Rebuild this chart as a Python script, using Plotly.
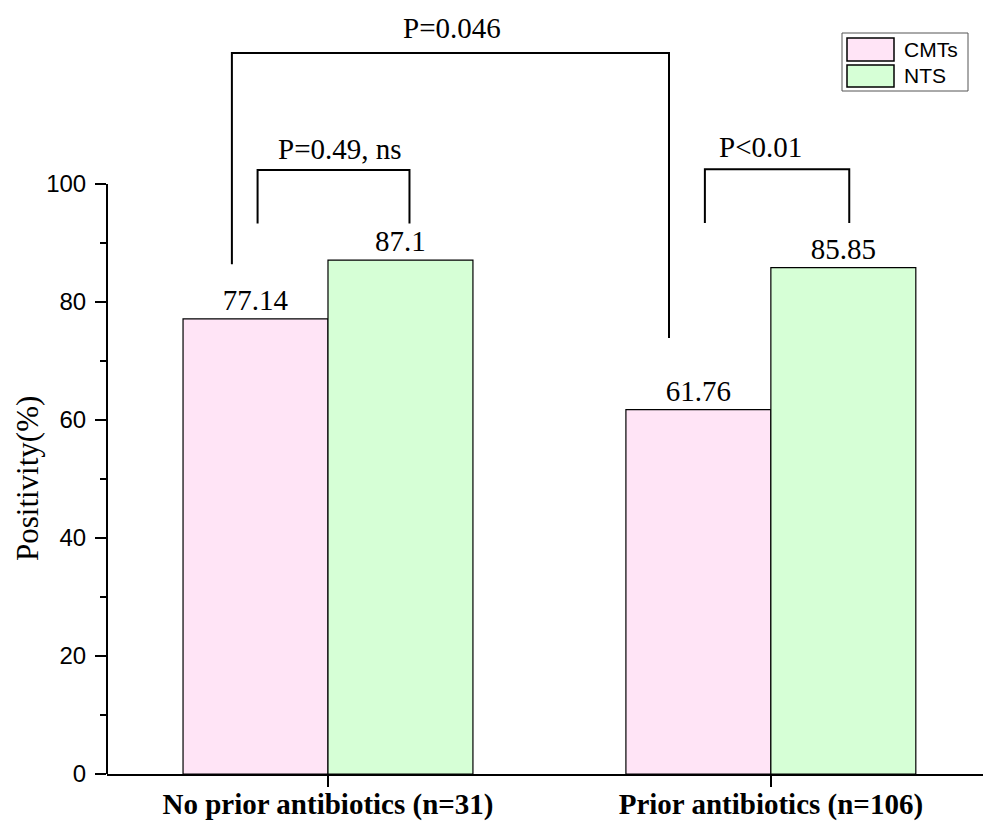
import plotly.graph_objects as go

# Data
categories = ["No prior antibiotics (n=31)", "Prior antibiotics (n=106)"]
series_names = ["CMTs", "NTS"]
cmts_values = [77.14, 61.76]
nts_values = [87.1, 85.85]
series_values = [cmts_values, nts_values]
bar_colors = ["#FFE4F6", "#D6FFD6"]

y_ticks = [0, 20, 40, 60, 80, 100]
y_minor_ticks = [10, 30, 50, 70, 90]

# Significance brackets: (x_left, x_right, y_top, y_left_end, y_right_end, label, label_x, label_y)
brackets = [
    (-0.217, 0.770, 122.2, 86.4, 73.9, "P=0.046", 0.28, 126.4),
    (-0.159, 0.184, 102.4, 93.3, 93.3, "P=0.49, ns", 0.027, 105.9),
    (0.851, 1.177, 102.5, 93.4, 93.4, "P<0.01", 0.977, 106.3),
]

W, H = 983, 823
M_L, M_R, M_T, M_B = 107, 0, 0, 49
Y_MAX = 131.2
X_RANGE = [-0.499, 1.479]

serif = "Liberation Serif, Times New Roman, serif"
sans = "Liberation Sans, Arial, sans-serif"

fig = go.Figure()
for name, vals, col in zip(series_names, series_values, bar_colors):
    fig.add_trace(go.Bar(
        x=categories, y=vals, name=name,
        marker=dict(color=col, line=dict(color="black", width=1.2)),
        text=[f"{v:g}" for v in vals], textposition="outside",
        textfont=dict(family=serif, size=29, color="black"),
        cliponaxis=False, showlegend=False,
    ))

shapes = []
annotations = []

# y-axis line from 0 to 100
shapes.append(dict(type="line", xref="paper", yref="y", x0=0, x1=0, y0=-1.0, y1=100,
                   line=dict(color="black", width=2)))

for xl, xr, yt, yl, yr, lab, lx, ly in brackets:
    shapes.append(dict(type="path", xref="x", yref="y",
                       path=f"M {xl},{yl} L {xl},{yt} L {xr},{yt} L {xr},{yr}",
                       line=dict(color="black", width=2)))
    annotations.append(dict(x=lx, y=ly, xref="x", yref="y", text=lab, showarrow=False,
                            font=dict(family=serif, size=29, color="black"),
                            xanchor="center", yanchor="middle"))

# Pixel -> paper coordinate helpers
pw = W - M_L - M_R
ph = H - M_T - M_B
def px(x):
    return (x - M_L) / pw
def py(y):
    return (H - M_B - y) / ph

# y-axis title, centred on the 0-100 span
annotations.append(dict(x=px(27), y=50, xref="paper", yref="y", text="Positivity(%)",
                        textangle=-90, showarrow=False, xanchor="center", yanchor="middle",
                        font=dict(family=serif, size=31, color="black")))

# Legend box
shapes.append(dict(type="rect", xref="paper", yref="paper",
                   x0=px(842), x1=px(968), y0=py(91), y1=py(33),
                   line=dict(color="#555555", width=1), fillcolor="white"))
swatch_rows = [(38, 61), (65, 87)]
for (t, b), name, col in zip(swatch_rows, series_names, bar_colors):
    shapes.append(dict(type="rect", xref="paper", yref="paper",
                       x0=px(847), x1=px(894), y0=py(b), y1=py(t),
                       line=dict(color="black", width=1.5), fillcolor=col))
    annotations.append(dict(x=px(902), y=py((t + b) / 2), xref="paper", yref="paper",
                            text=name, showarrow=False, xanchor="left", yanchor="middle",
                            font=dict(family=sans, size=21, color="black")))

fig.update_layout(
    width=W, height=H,
    margin=dict(l=M_L, r=M_R, t=M_T, b=M_B, autoexpand=False),
    paper_bgcolor="white", plot_bgcolor="white",
    barmode="group", bargap=0.3454, bargroupgap=0,
    shapes=shapes, annotations=annotations,
    showlegend=False,
)
fig.update_xaxes(
    range=X_RANGE, showline=True, linecolor="black", linewidth=2,
    ticks="outside", ticklen=11, tickwidth=2, tickcolor="black",
    tickfont=dict(family=serif, size=29, color="black"),
    tickprefix="<b>", ticksuffix="</b>", ticklabelstandoff=-8,
    showgrid=False, zeroline=False,
)
fig.update_yaxes(
    range=[0, Y_MAX], showline=False, showgrid=False, zeroline=False,
    tickmode="array", tickvals=y_ticks, ticktext=[str(v) for v in y_ticks],
    ticks="outside", ticklen=11, tickwidth=2, tickcolor="black",
    tickfont=dict(family=sans, size=24, color="black"),
    ticklabelstandoff=4,
    minor=dict(tickmode="array", tickvals=y_minor_ticks, ticks="outside",
               ticklen=6, tickwidth=2, tickcolor="black"),
)

fig.write_html("out.html")
